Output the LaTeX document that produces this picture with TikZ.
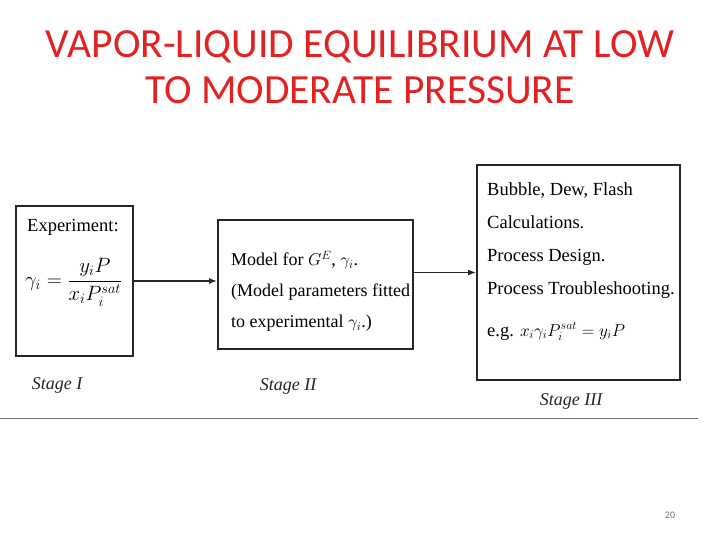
\documentclass[tikz,border=0pt]{standalone}
\usepackage{amsmath}
\usepackage{fontspec}
\setmainfont{Liberation Serif}
\newfontfamily\slidefont{Carlito}
\usetikzlibrary{arrows.meta,positioning}
\definecolor{titlered}{RGB}{226,34,34}

\begin{document}
\begin{tikzpicture}[x=1pt, y=-1pt,
    box/.style={draw=black!85, line width=1.6pt, inner sep=0pt},
    txt/.style={anchor=north west, align=left, inner sep=0pt},
    stage/.style={font=\fontsize{18}{20}\selectfont\itshape, text=black!85},
    flow/.style={-{Latex[length=8pt,width=6pt]}, line width=1.6pt, black!85}
]
    \useasboundingbox[fill=white] (0,0) rectangle (720,540);

    % Title
    \node[anchor=north, align=center, text=titlered, inner sep=0pt,
          font=\slidefont\fontsize{41.5}{46}\selectfont] (title) at (360,30)
        {VAPOR-LIQUID EQUILIBRIUM AT LOW\\TO MODERATE PRESSURE};

    % Stage I: experiment
    \node[box, minimum width=117, minimum height=150] (expt) at (74.5,281) {};
    \node[anchor=base west, inner sep=0pt, font=\fontsize{18.5}{22}\selectfont] (exptHead) at (27,232) {Experiment:};
    \node[anchor=west, inner sep=0pt, font=\fontsize{21}{24}\selectfont] (exptEq) at (25,282)
        {$\gamma_i = \dfrac{y_iP}{x_iP_i^{sat}}$};
    \node[stage] (stageI) at (57,385) {Stage I};

    % Stage II: model
    \node[box, minimum width=195, minimum height=129] (model) at (315.5,284.5) {};
    \node[txt, font=\fontsize{18}{31}\selectfont] (modelText) at (231,251)
        {Model for $G^E$, $\gamma_i$.\\(Model parameters fitted\\to experimental $\gamma_i$.)};
    \node[stage] (stageII) at (288,386) {Stage II};

    % Stage III: applications
    \node[box, minimum width=203, minimum height=215] (apps) at (578.5,272.5) {};
    \node[txt, font=\fontsize{18.5}{33}\selectfont] (appsText) at (487,182)
        {Bubble, Dew, Flash\\Calculations.\\Process Design.\\Process Troubleshooting.\\[9pt]e.g. $x_i\gamma_iP_i^{sat} = y_iP$};
    \node[stage] (stageIII) at (571,401) {Stage III};

    % Arrows
    \draw[flow] (expt.east) -- (expt.east -| model.west);
    \draw[flow] (model.east |- apps.west) -- (apps.west);

    % Footer
    \draw[black!55, line width=0.8pt] (0,418) -- (698,418);
    \node[font=\slidefont\fontsize{10}{12}\selectfont, text=black!55] (pageno) at (670,515) {20};
\end{tikzpicture}
\end{document}
